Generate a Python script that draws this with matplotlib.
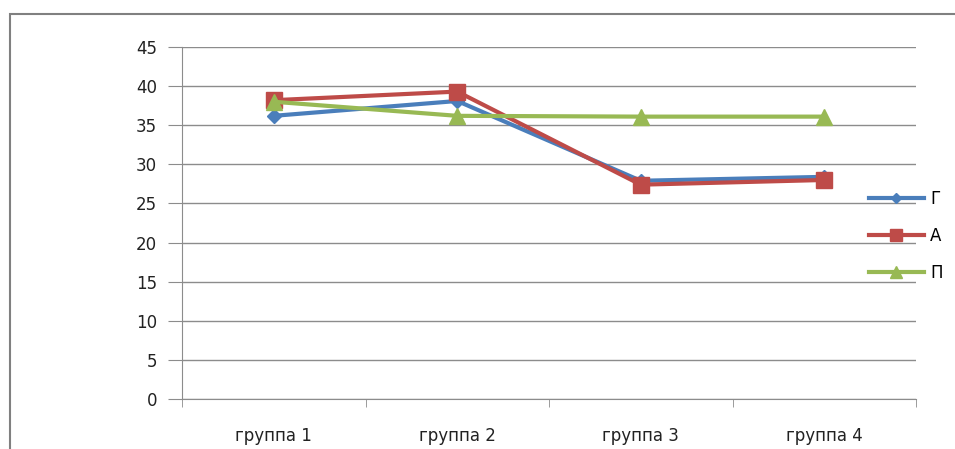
import numpy as np
import matplotlib
matplotlib.use("Agg")
import matplotlib.pyplot as plt
from matplotlib.lines import Line2D
from matplotlib.patches import Rectangle

groups = ["группа 1", "группа 2", "группа 3", "группа 4"]
series_names = ["Г", "А", "П"]
g_vals = [36.2, 38.1, 27.9, 28.4]
a_vals = [38.2, 39.3, 27.4, 28.0]
p_vals = [38.0, 36.2, 36.1, 36.1]
y_ticks = [0, 5, 10, 15, 20, 25, 30, 35, 40, 45]

colors = ["#4A7EBB", "#BE4B48", "#98B954"]
markers = ["D", "s", "^"]
msizes = [7, 11, 11]
grid_col = "#8C8C8C"

plt.rcParams['font.family'] = ['DejaVu Sans']

fig = plt.figure(figsize=(9.55, 4.49), dpi=100)
# outer chart frame (partly cut off at right/bottom)
fig.patches.append(Rectangle((10 / 955, -0.05), 1.0, 1 - 14 / 449 + 0.05,
                             transform=fig.transFigure, fill=False,
                             edgecolor="#808080", linewidth=1.5))

ax = fig.add_axes([182 / 955, 1 - 399 / 449, (916 - 182) / 955, (399 - 47) / 449])
x = np.arange(len(groups))
for vals, name, c, m, ms in zip([g_vals, a_vals, p_vals], series_names, colors, markers, msizes):
    ax.plot(x, vals, color=c, marker=m, markersize=ms, linewidth=3, label=name,
            markeredgecolor=c)

ax.set_xlim(-0.5, len(groups) - 0.5)
ax.set_ylim(0, 45)
ax.set_yticks(y_ticks)
ax.yaxis.grid(True, color=grid_col, linewidth=1)
ax.set_axisbelow(True)
ax.set_xticks(x)
ax.set_xticklabels(groups, fontsize=12, color="#222222")
ax.set_xticks(np.arange(-0.5, len(groups)), minor=True)
ax.tick_params(axis="x", which="major", length=0, pad=20)
ax.tick_params(axis="x", which="minor", length=6, color=grid_col, direction="out")
ax.tick_params(axis="y", length=10, color=grid_col, labelsize=12, pad=8,
               labelcolor="#222222")
for s in ["top", "right"]:
    ax.spines[s].set_visible(False)
for s in ["left", "bottom"]:
    ax.spines[s].set_color(grid_col)

handles = [Line2D([0], [0], color=c, marker=m, markersize=ms * 0.8, linewidth=3,
                  markeredgecolor=c) for c, m, ms in zip(colors, markers, msizes)]
fig.legend(handles, series_names, loc="upper left",
           bbox_to_anchor=(862 / 955, 1 - 183 / 449), frameon=False,
           fontsize=12, handlelength=3.3, labelspacing=1.15, handletextpad=0.4,
           borderaxespad=0)

fig.savefig("out.png", dpi=100)
